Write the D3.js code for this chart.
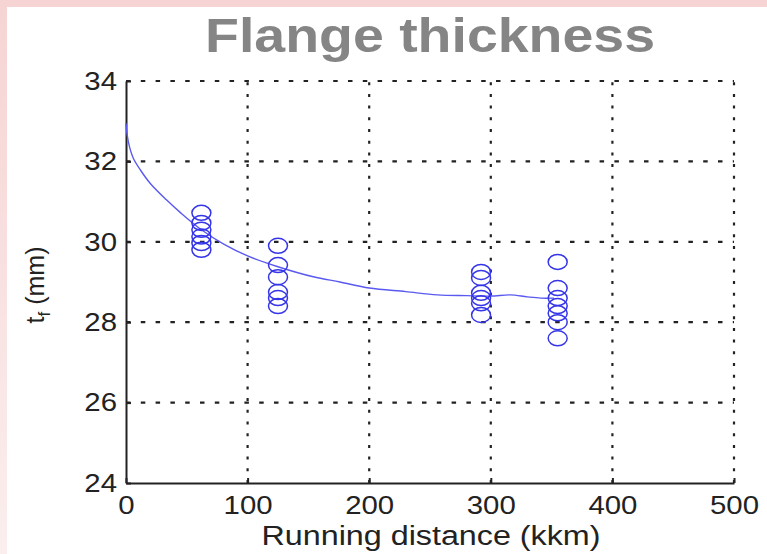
<!DOCTYPE html>
<html>
<head>
<meta charset="utf-8">
<script src="https://cdn.jsdelivr.net/npm/d3@7"></script>
<style>
  body { margin: 0; background: #fff; }
  svg text { font-family: "Liberation Sans", Arial, sans-serif; }
</style>
</head>
<body>
<div id="chart"></div>
<script>
// data
const xTicks = [0, 100, 200, 300, 400, 500];
const yTicks = [24, 26, 28, 30, 32, 34];

// measured points, distance in kkm and flange thickness in mm
const measDist = [62, 62, 62, 62, 62, 62,
                  125, 125, 125, 125, 125, 125,
                  292, 292, 292, 292, 292, 292,
                  355, 355, 355, 355, 355, 355, 355];
const measThick = [30.72, 30.47, 30.3, 30.13, 29.97, 29.8,
                   29.9, 29.42, 29.12, 28.75, 28.6, 28.4,
                   29.25, 29.1, 28.73, 28.6, 28.47, 28.18,
                   29.5, 28.85, 28.6, 28.4, 28.22, 28.0, 27.6];

// fitted trend line
const fitDist  = [0, 1, 3, 6, 12, 20, 33, 45, 62, 80, 100, 125, 154, 176, 200, 230, 256, 280, 300, 316, 330, 341, 352];
const fitThick = [32.95, 32.65, 32.35, 32.08, 31.78, 31.45, 31.05, 30.72, 30.3, 29.95, 29.65, 29.38, 29.13, 29.0, 28.85, 28.76, 28.68, 28.66, 28.65, 28.68, 28.63, 28.6, 28.6];

const width = 767, height = 554;
const margin = {top: 81, right: 33, bottom: 71, left: 126};

const svg = d3.select("#chart")
  .append("svg")
  .attr("width", width)
  .attr("height", height);

// pink frame of the slide
const defs = svg.append("defs");
const grad = defs.append("linearGradient")
  .attr("id", "leftfade").attr("x1", 0).attr("x2", 0).attr("y1", 0).attr("y2", 1);
grad.append("stop").attr("offset", "0%").attr("stop-color", "#f6d4d4");
grad.append("stop").attr("offset", "100%").attr("stop-color", "#fbeeee");

svg.append("rect").attr("width", width).attr("height", height).attr("fill", "#fff");
svg.append("rect").attr("width", width).attr("height", 7).attr("fill", "#f6d4d4");
svg.append("rect").attr("y", 7).attr("width", 7).attr("height", height - 7).attr("fill", "url(#leftfade)");

const x = d3.scaleLinear()
  .domain([0, 500])
  .range([margin.left, width - margin.right]);

const y = d3.scaleLinear()
  .domain([24, 34])
  .range([height - margin.bottom, margin.top]);

// dotted grid
svg.append("g")
  .selectAll("line")
  .data(xTicks.slice(1))
  .join("line")
    .attr("x1", d => x(d)).attr("x2", d => x(d))
    .attr("y1", y(24)).attr("y2", y(34))
    .attr("stroke", "#222")
    .attr("stroke-width", 2.2)
    .attr("stroke-dasharray", "3,8.7");

svg.append("g")
  .selectAll("line")
  .data(yTicks.slice(1))
  .join("line")
    .attr("x1", x(0)).attr("x2", x(500))
    .attr("y1", d => y(d)).attr("y2", d => y(d))
    .attr("stroke", "#222")
    .attr("stroke-width", 2.2)
    .attr("stroke-dasharray", "4.5,10.3");

// axes, ticks point inward
const yAxis = svg.append("g")
  .attr("transform", `translate(${margin.left},0)`)
  .call(d3.axisLeft(y).tickValues(yTicks).tickSizeInner(-5).tickSizeOuter(0).tickPadding(9));

const xAxis = svg.append("g")
  .attr("transform", `translate(0,${height - margin.bottom})`)
  .call(d3.axisBottom(x).tickValues(xTicks).tickSizeInner(-5).tickSizeOuter(0).tickPadding(13));

[xAxis, yAxis].forEach(ax => {
  ax.select(".domain").attr("stroke", "#222").attr("stroke-width", 2);
  ax.selectAll(".tick line").attr("stroke", "#222").attr("stroke-width", 2);
  ax.selectAll(".tick text")
    .attr("fill", "#222")
    .attr("font-size", 26);
});

// trend line
svg.append("path")
  .datum(fitDist.map((d, i) => [d, fitThick[i]]))
  .attr("fill", "none")
  .attr("stroke", "#5a5af0")
  .attr("stroke-width", 1.4)
  .attr("d", d3.line().x(d => x(d[0])).y(d => y(d[1])).curve(d3.curveCatmullRom));

// measured points
svg.append("g")
  .selectAll("ellipse")
  .data(measDist.map((d, i) => [d, measThick[i]]))
  .join("ellipse")
    .attr("cx", d => x(d[0]))
    .attr("cy", d => y(d[1]))
    .attr("rx", 9.5)
    .attr("ry", 7.5)
    .attr("fill", "none")
    .attr("stroke", "#3535e8")
    .attr("stroke-width", 1.5);

// title and labels
svg.append("text")
  .attr("x", 430).attr("y", 52)
  .attr("text-anchor", "middle")
  .attr("font-size", 48)
  .attr("font-weight", "bold")
  .attr("fill", "#858585")
  .attr("textLength", 450)
  .attr("lengthAdjust", "spacingAndGlyphs")
  .text("Flange thickness");

svg.append("text")
  .attr("x", 431).attr("y", 545)
  .attr("text-anchor", "middle")
  .attr("font-size", 27)
  .attr("fill", "#222")
  .attr("textLength", 339)
  .attr("lengthAdjust", "spacingAndGlyphs")
  .text("Running distance (kkm)");

const ylab = svg.append("text")
  .attr("transform", "translate(44,285) rotate(-90)")
  .attr("text-anchor", "middle")
  .attr("font-size", 25)
  .attr("fill", "#222");
ylab.append("tspan").text("t");
ylab.append("tspan").attr("font-size", 17).attr("dy", 6).text("f");
ylab.append("tspan").attr("dy", -6).text(" (mm)");

// picture is stretched sideways a little, so widen tick text
svg.selectAll(".tick text").each(function() {
  const w = this.getComputedTextLength();
  d3.select(this).attr("textLength", w * 1.13).attr("lengthAdjust", "spacingAndGlyphs");
});
</script>
</body>
</html>
